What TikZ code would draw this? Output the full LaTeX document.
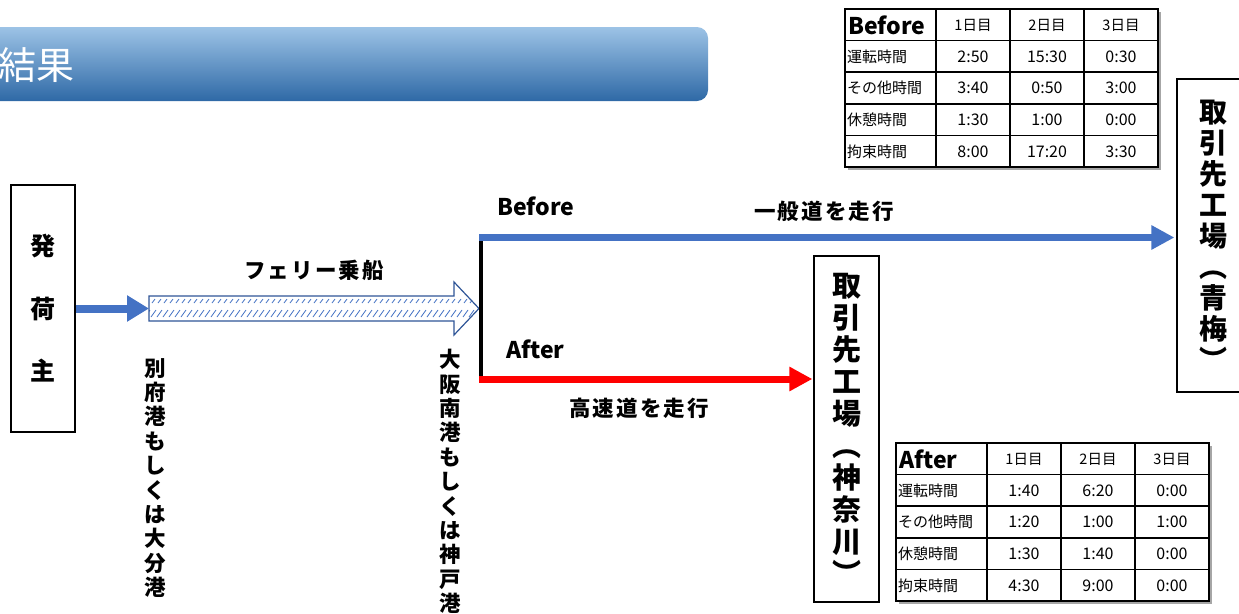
\documentclass[tikz,border=0pt]{standalone}
\usepackage{fontspec}
\setmainfont{Noto Sans CJK JP}
\usetikzlibrary{arrows.meta}
\definecolor{arrowblue}{HTML}{4472C4}
\definecolor{ferryline}{HTML}{2F5597}
\definecolor{bannertop}{HTML}{9DC3E6}
\definecolor{bannerbot}{HTML}{2E69A6}
\tikzset{
  box/.style={draw=black, line width=1.2pt, fill=white, inner sep=0pt, align=center},
  vlabel/.style={inner sep=0pt, align=center, font=\bfseries\fontsize{21.5}{24.4}\selectfont},
  hlabel/.style={inner sep=0pt, font=\bfseries\fontsize{21.5}{24}\selectfont\addfontfeatures{LetterSpace=10}},
  latlabel/.style={inner sep=0pt, font=\bfseries\fontsize{23}{24}\selectfont},
  tlab/.style={anchor=west, inner sep=0pt, font=\fontsize{15}{15}\selectfont},
  tval/.style={inner sep=0pt, font=\fontsize{16}{16}\selectfont},
  thead/.style={inner sep=0pt, font=\fontsize{14.5}{14.5}\selectfont},
  hatch/.style={draw=arrowblue, line width=0.8pt},
  bigblue/.style={draw=arrowblue, line width=8pt, -{Triangle[length=22pt,width=25pt]}},
  roadblue/.style={draw=arrowblue, line width=6.5pt, -{Triangle[length=23pt,width=23pt]}},
  roadred/.style={draw=red, line width=7pt, -{Triangle[length=23pt,width=23pt]}},
}
\newcommand\timetab[4]{%
\begin{scope}[shift={(#1)}]
  \fill[gray!70] (2.5,2.5) rectangle (315.5,160.5);
  \fill[white] (0,0) rectangle (313,158);
  \foreach \yy in {31.6,63.2,94.8,126.4} \draw[line width=1.5pt] (0,\yy) -- (313,\yy);
  \foreach \xx in {91,165,239} \draw[line width=1.5pt] (\xx,0) -- (\xx,158);
  \draw[line width=2.5pt] (0,0) rectangle (313,158);
  \node[anchor=west, inner sep=0pt, font=\bfseries\fontsize{23}{23}\selectfont] (#2-h0) at (3,16) {#3};
  \foreach \t [count=\c] in {1日目,2日目,3日目}
    \node[thead] (#2-h\c) at ({54+74*\c},16) {\t};
  \foreach \lab/\va/\vb/\vc [count=\r] in {#4} {
    \node[tlab] (#2-\r-0) at (2,{16+31.6*\r}) {\lab};
    \node[tval] (#2-\r-1) at (128,{16+31.6*\r}) {\va};
    \node[tval] (#2-\r-2) at (202,{16+31.6*\r}) {\vb};
    \node[tval] (#2-\r-3) at (276,{16+31.6*\r}) {\vc};
  }
\end{scope}}
\begin{document}
\begin{tikzpicture}[x=1pt,y=-1pt]
\useasboundingbox (0,0) rectangle (1239,613);
% title banner
\node[rounded corners=11pt, top color=bannertop, bottom color=bannerbot, draw=none,
      minimum width=740pt, minimum height=74pt, inner sep=0pt] (banner) at (338,64) {};
\node[anchor=west, inner sep=0pt, text=white, font=\fontsize{38}{38}\selectfont] (title) at (-2,65) {結果};

% shipper
\node[box, minimum width=64pt, minimum height=247pt, font=\bfseries\fontsize{25}{62.5}\selectfont] (shipper) at (43,308.5) {発\\荷\\主};

% ferry arrow
\coordinate (ferrytail) at (149,308.5);
\coordinate (ferrytip) at (479,308.5);
\begin{scope}
  \clip (149,296) -- (454,296) -- (454,282) -- (479,308.5) -- (454,335) -- (454,321) -- (149,321) -- cycle;
  \fill[white] (140,270) rectangle (490,340);
  \foreach \x in {140,146,...,484} {
    \draw[hatch] (\x,303) -- (\x+3,299);
    \draw[hatch] (\x-1,317) -- (\x+4,310);
  }
\end{scope}
\draw[ferryline, line width=1.2pt, line join=miter] (ferrytail |- 0,296) -- (454,296) -- (454,282) -- (ferrytip) -- (454,335) -- (454,321) -- (ferrytail |- 0,321) -- cycle;
\draw[bigblue] (shipper.east) -- (ferrytail);
\node[hlabel] (ferrylab) at (314,270) {フェリー乗船};

% ports
\node[vlabel] (beppu) at (155,478) {別\\府\\港\\も\\し\\く\\は\\大\\分\\港};
\node[vlabel] (osaka) at (450,481.5) {大\\阪\\南\\港\\も\\し\\く\\は\\神\\戸\\港};

% junction
\coordinate (jtop) at (481,235);
\coordinate (jbot) at (481,382);
\draw[line width=4pt] (jtop) -- (jbot);
\coordinate (jb) at (479,237.5);
\coordinate (ja) at (479,379);

% destinations
\node[box, minimum width=72pt, minimum height=313pt, font=\bfseries\fontsize{28}{31}\selectfont] (ome) at (1213,235.5) {取\\引\\先\\工\\場\\︵\\青\\梅\\︶};
\node[box, minimum width=65pt, minimum height=346pt, font=\bfseries\fontsize{29}{32}\selectfont] (kana) at (846.5,429) {取\\引\\先\\工\\場\\︵\\神\\奈\\川\\︶};

\draw[roadblue] (jb) -- ([xshift=-2pt]ome.west |- jb);
\draw[roadred] (ja) -- ([xshift=-1pt]kana.west |- ja);

\node[latlabel, anchor=west] (beforelab) at (497,206) {Before};
\node[hlabel] (generalroad) at (824,211) {一般道を走行};
\node[latlabel, anchor=west] (afterlab) at (506,349) {After};
\node[hlabel] (expressway) at (639,408) {高速道を走行};

% tables
\timetab{845,9}{bt}{Before}{運転時間/2:50/15:30/0:30, その他時間/3:40/0:50/3:00, 休憩時間/1:30/1:00/0:00, 拘束時間/8:00/17:20/3:30}
\timetab{896,443}{at}{After}{運転時間/1:40/6:20/0:00, その他時間/1:20/1:00/1:00, 休憩時間/1:30/1:40/0:00, 拘束時間/4:30/9:00/0:00}
\end{tikzpicture}
\end{document}
